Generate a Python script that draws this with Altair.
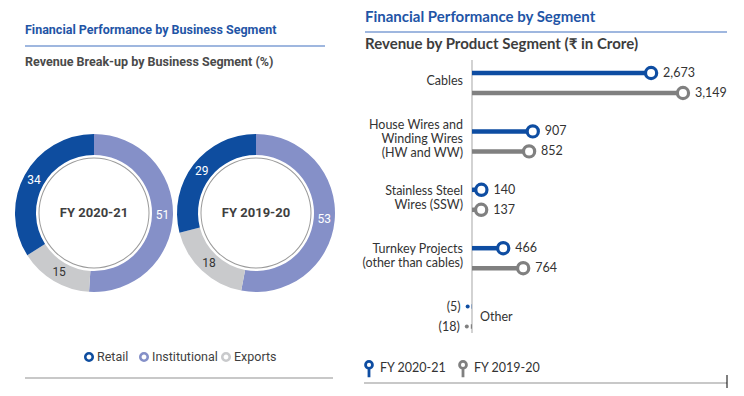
import altair as alt
import pandas as pd

# ---------------- data ----------------
left_title = "Financial Performance by Business Segment"
left_subtitle = "Revenue Break-up by Business Segment (%)"
right_title = "Financial Performance by Segment"
right_subtitle = "Revenue by Product Segment (₹ in Crore)"

segments = ["Institutional", "Exports", "Retail"]
legend_segments = ["Retail", "Institutional", "Exports"]
seg_colors = ["#8590c8", "#c9cacc", "#0e4d9f"]
donut_years = ["FY 2020-21", "FY 2019-20"]
share_2021 = [51, 15, 34]
share_1920 = [53, 18, 29]

categories = ["Cables", "House Wires and\nWinding Wires\n(HW and WW)",
              "Stainless Steel\nWires (SSW)", "Turnkey Projects\n(other than cables)", "Other"]
years = ["FY 2020-21", "FY 2019-20"]
rev_2021 = [2673, 907, 140, 466, -5]
rev_1920 = [3149, 852, 137, 764, -18]
year_colors = ["#0e4da2", "#808080"]

LFONT = "Roboto, Liberation Sans, sans-serif"
RFONT = "Lato, Open Sans, sans-serif"
BLUE_T = "#1f55a6"
DARK = "#3f3f3f"

# ---------------- donuts ----------------
donut_df = pd.DataFrame({
    "year": [donut_years[0]] * 3 + [donut_years[1]] * 3,
    "segment": segments * 2,
    "share": share_2021 + share_1920,
    "ord": [0, 1, 2] * 2,
})

seg_scale = alt.Scale(domain=segments, range=seg_colors)
centers = [86, 248]
CY = 205
layers = []
for yr, cx in zip(donut_years, centers):
    base = alt.Chart(donut_df).transform_filter(alt.datum.year == yr)
    ring = base.mark_arc(outerRadius=79, innerRadius=58, stroke=None).encode(
        theta=alt.Theta("share:Q", stack=True),
        order=alt.Order("ord:Q"),
        color=alt.Color("segment:N", scale=seg_scale, legend=None),
        x=alt.value(cx), y=alt.value(CY),
    )
    inner = base.transform_filter(alt.datum.ord == 0).mark_arc(
        outerRadius=55.5, innerRadius=54.5, color="#9a9a9a").encode(
        theta=alt.value(6.2832), x=alt.value(cx), y=alt.value(CY))
    labels = base.mark_text(font=LFONT, fontSize=12, radius=68.5).encode(
        theta=alt.Theta("share:Q", stack=True),
        order=alt.Order("ord:Q"),
        text=alt.Text("share:Q"),
        color=alt.condition(alt.datum.segment == "Exports", alt.value("#333333"), alt.value("white")),
        x=alt.value(cx), y=alt.value(CY),
    )
    center = base.transform_filter(alt.datum.ord == 0).mark_text(
        font=LFONT, fontSize=13, fontWeight="bold", color=DARK).encode(
        text="year:N", x=alt.value(cx), y=alt.value(CY))
    layers += [ring, inner, labels, center]

# left legend (one entry per segment)
leg_df = pd.DataFrame({"segment": legend_segments})
left_leg = []
for seg, lx in zip(legend_segments, [81, 136, 218]):
    lb = alt.Chart(leg_df).transform_filter(alt.datum.segment == seg)
    left_leg.append(lb.mark_point(shape="circle", size=55, strokeWidth=2.6, fill="white", filled=False,
                                  opacity=1).encode(
        x=alt.value(lx), y=alt.value(349),
        stroke=alt.Stroke("segment:N", scale=seg_scale, legend=None)))
    left_leg.append(lb.mark_text(font=LFONT, fontSize=12.5, color=DARK, align="left", dx=8).encode(
        x=alt.value(lx), y=alt.value(349), text="segment:N"))

# ---------------- lollipop chart ----------------
rev_df = pd.DataFrame({
    "category": categories * 2,
    "year": [years[0]] * 5 + [years[1]] * 5,
    "value": rev_2021 + rev_1920,
})
rev_df["label"] = [f"({-v:,})" if v < 0 else f"{v:,}" for v in rev_df["value"]]

X_ZERO_PX = 464
xs = alt.Scale(domain=[0, 3000], range=[X_ZERO_PX, 665], zero=True)
ys = alt.Scale(type="band", domain=categories, range=[45.8, 337.8], paddingInner=0, paddingOuter=0)
ycol = alt.Scale(domain=years, range=year_colors)
X0 = alt.X("zero:Q", scale=xs, axis=None)
Ycat = alt.Y("category:N", scale=ys, axis=None)


def year_layers(yr, off):
    b = alt.Chart(rev_df).transform_filter(alt.datum.year == yr)
    X = alt.X("value:Q", scale=xs, axis=None)
    rule = b.transform_calculate(zero="0").mark_rule(strokeWidth=4.5, yOffset=off).encode(
        x=X0, x2="value:Q", y=Ycat,
        color=alt.Color("year:N", scale=ycol, legend=None))
    pos = b.transform_filter(alt.datum.value >= 0)
    neg = b.transform_filter(alt.datum.value < 0)
    dot = pos.mark_point(shape="circle", size=125, strokeWidth=3.2, fill="white", filled=False,
                         opacity=1, yOffset=off).encode(
        x=X, y=Ycat, stroke=alt.Stroke("year:N", scale=ycol, legend=None))
    ndot = neg.mark_point(shape="circle", size=16, filled=True, opacity=1, yOffset=off, xOffset=-4).encode(
        x=X, y=Ycat, color=alt.Color("year:N", scale=ycol, legend=None))
    ptxt = pos.mark_text(font=RFONT, fontSize=12.5, color="#333333", align="left", dx=12, yOffset=off).encode(
        x=X, y=Ycat, text="label:N")
    ntxt = neg.mark_text(font=RFONT, fontSize=12.5, color="#333333", align="right", dx=-11, yOffset=off).encode(
        x=X, y=Ycat, text="label:N")
    return [rule, dot, ndot, ptxt, ntxt]


cat_df = pd.DataFrame({"category": categories})
cat_base = alt.Chart(cat_df).transform_calculate(
    zero="0", nlines="split(datum.category, '\\n').length")
cat_labs = []
for n in (1, 2, 3):
    cat_labs.append(cat_base.transform_filter(
        (alt.datum.category != "Other") & (alt.datum.nlines == n)).mark_text(
        font=RFONT, fontSize=12.5, color="#333333", align="right", dx=-9, lineBreak="\n",
        lineHeight=14, dy=-(n - 1) * 7 - 2).encode(
        x=X0, y=Ycat, text="category:N"))
other_lab = cat_base.transform_filter(alt.datum.category == "Other").mark_text(
    font=RFONT, fontSize=12.5, color="#333333", align="left", dx=8).encode(
    x=X0, y=Ycat, text="category:N")
axis_line = alt.Chart(pd.DataFrame({"a": [0]})).mark_rule(color="#b5b5b5", strokeWidth=1.2).encode(
    x=alt.value(X_ZERO_PX), y=alt.value(52), y2=alt.value(325))

lolli = alt.layer(*year_layers(years[0], -10), *year_layers(years[1], 10), *cat_labs, other_lab)

# right legend with pin icons
PIN = "M-0.42,-0.5 A0.42,0.42 0 1,1 0.42,-0.5 A0.42,0.42 0 1,1 -0.42,-0.5 M0,-0.08 L0,1"
yl_df = pd.DataFrame({"year": years})
yl_x = alt.X("year:N", scale=alt.Scale(domain=years, range=[361, 455], padding=0), axis=None)
right_leg = alt.layer(
    alt.Chart(yl_df).mark_point(shape=PIN, size=270, strokeWidth=2.8, filled=False, opacity=1).encode(
        x=yl_x, y=alt.value(361), stroke=alt.Stroke("year:N", scale=ycol, legend=None)),
    alt.Chart(yl_df).mark_text(font=RFONT, fontSize=12.5, color="#333333", align="left", dx=11).encode(
        x=yl_x, y=alt.value(360), text="year:N"),
)

# ---------------- titles & lines ----------------
def txt(s, x, y, font, size, color, weight="bold"):
    return alt.Chart(pd.DataFrame({"t": [s]})).mark_text(
        font=font, fontSize=size, fontWeight=weight, color=color, align="left", baseline="middle").encode(
        x=alt.value(x), y=alt.value(y), text="t:N")


def hline(x1, x2, y, color, w):
    return alt.Chart(pd.DataFrame({"a": [0]})).mark_rule(color=color, strokeWidth=w).encode(
        x=alt.value(x1), x2=alt.value(x2), y=alt.value(y))


decor = [
    txt(left_title, 17, 22, LFONT, 12.5, BLUE_T),
    hline(17, 317, 38, "#7f9fd4", 1.5),
    txt(left_subtitle, 17, 54, LFONT, 12.5, "#4a4a4a"),
    txt(right_title, 357, 9, RFONT, 15, BLUE_T),
    hline(357, 719, 24, "#7f9fd4", 1.5),
    txt(right_subtitle, 357, 36, RFONT, 15, "#3d3d3d"),
    hline(17, 325, 370, "#c8c8c8", 2),
    hline(356, 719, 375, "#c8c8c8", 2),
    alt.Chart(pd.DataFrame({"a": [0]})).mark_rule(color="black", strokeWidth=1).encode(
        x=alt.value(719), y=alt.value(367), y2=alt.value(384)),
]

chart = alt.layer(*layers, *left_leg, axis_line, lolli, right_leg, *decor).resolve_scale(
    x="independent", y="independent", color="independent", stroke="independent", theta="independent"
).properties(
    width=728, height=380, padding=0, autosize=alt.AutoSizeParams(type="none"),
    background="white"
).configure_view(stroke=None)

chart.save("out.html", embed_options={"renderer": "svg", "actions": False})
